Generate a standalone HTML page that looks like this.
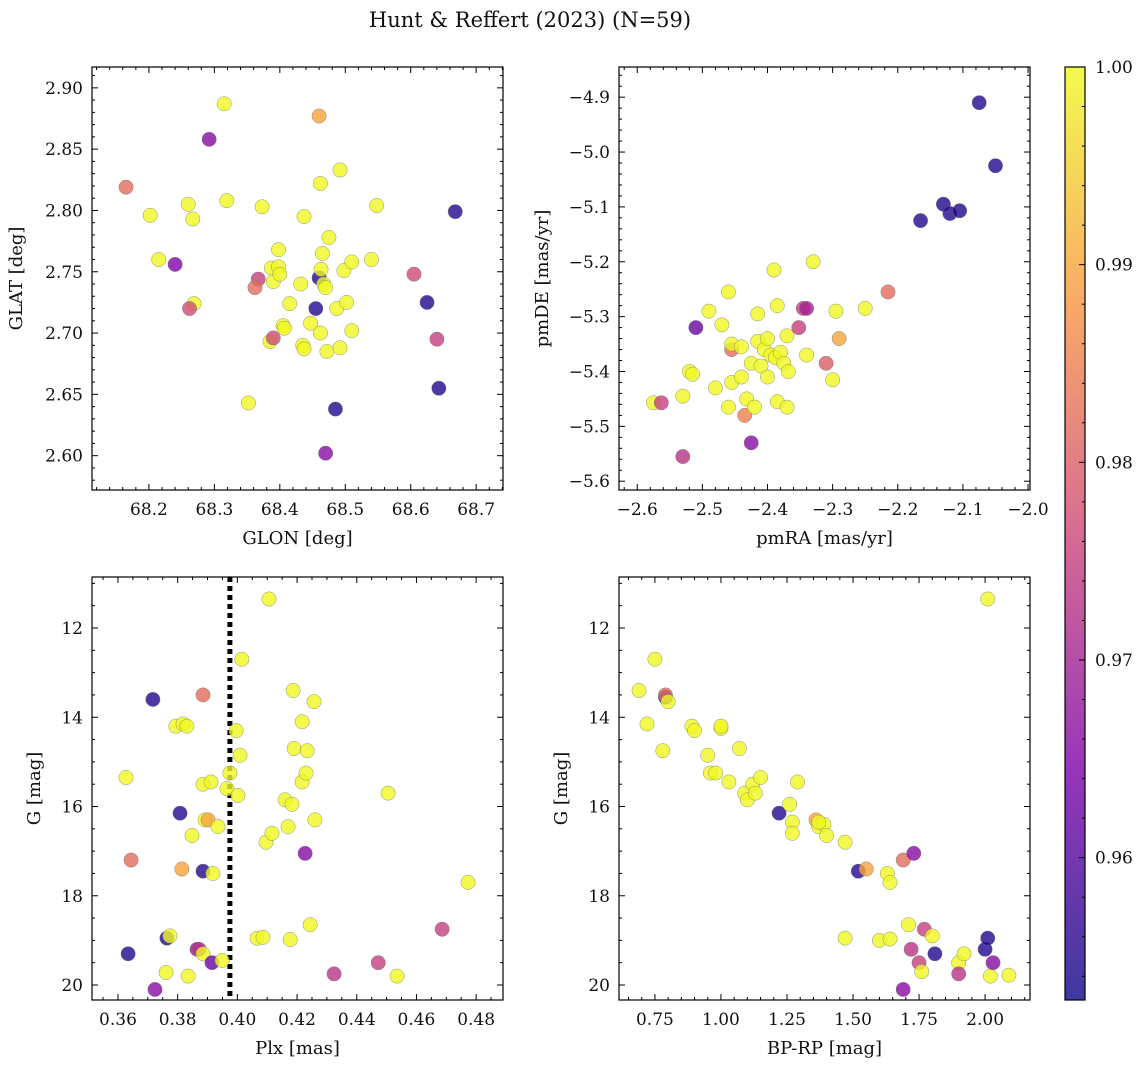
<!DOCTYPE html>
<html><head><meta charset="utf-8">
<style>
body{margin:0;background:#fff;}
svg text{font-family:"DejaVu Serif","Liberation Serif",serif;fill:#111;}
</style></head>
<body>
<svg id="fig" width="1148" height="1067" viewBox="0 0 1148 1067" xmlns="http://www.w3.org/2000/svg">
<text x="530" y="27" font-size="21" text-anchor="middle">Hunt &amp; Reffert (2023) (N=59)</text>
</svg>
<script>
// Panel 1: GLON vs GLAT
const glon1=[68.165,68.202,68.215,68.260,68.267,68.269,68.262,68.240,68.292,68.315,68.319,68.352,68.373,68.367,68.362,68.387,68.390,68.385,68.390,68.398,68.398,68.400,68.405,68.407,68.415,68.432,68.437,68.435,68.437,68.447,68.455,68.460,68.462,68.460,68.462,68.463,68.465,68.467,68.470,68.472,68.475,68.470,68.485,68.487,68.492,68.492,68.498,68.502,68.510,68.510,68.540,68.548,68.605,68.625,68.640,68.643,68.668];
const glat1=[2.819,2.796,2.760,2.805,2.793,2.724,2.720,2.756,2.858,2.887,2.808,2.643,2.803,2.744,2.737,2.753,2.742,2.693,2.696,2.768,2.754,2.748,2.706,2.704,2.724,2.740,2.795,2.690,2.687,2.708,2.720,2.745,2.700,2.877,2.822,2.752,2.765,2.740,2.737,2.685,2.778,2.602,2.638,2.720,2.833,2.688,2.751,2.725,2.702,2.758,2.760,2.804,2.748,2.725,2.695,2.655,2.799];
const prob1=[.982,1,1,1,1,1,.977,.965,.966,1,1,1,1,.975,.982,1,1,1,.977,1,1,1,1,1,1,1,1,1,1,1,.955,.955,1,.99,1,1,1,1,1,1,1,.966,.955,1,1,1,1,1,1,1,1,1,.977,.955,.975,.955,.955];
// Panel 2: pmRA vs pmDE
const pmra2=[-2.075,-2.05,-2.13,-2.12,-2.105,-2.165,-2.51,-2.575,-2.563,-2.53,-2.53,-2.52,-2.515,-2.49,-2.48,-2.47,-2.46,-2.46,-2.455,-2.455,-2.455,-2.44,-2.44,-2.435,-2.432,-2.425,-2.425,-2.42,-2.415,-2.415,-2.41,-2.405,-2.4,-2.4,-2.395,-2.39,-2.388,-2.385,-2.385,-2.38,-2.375,-2.37,-2.37,-2.368,-2.352,-2.345,-2.34,-2.34,-2.33,-2.31,-2.3,-2.295,-2.29,-2.25,-2.215];
const pmde2=[-4.91,-5.025,-5.095,-5.112,-5.107,-5.125,-5.32,-5.457,-5.457,-5.555,-5.445,-5.40,-5.405,-5.29,-5.43,-5.315,-5.255,-5.465,-5.42,-5.36,-5.35,-5.355,-5.41,-5.48,-5.45,-5.53,-5.385,-5.465,-5.295,-5.345,-5.39,-5.36,-5.34,-5.41,-5.37,-5.215,-5.375,-5.28,-5.455,-5.365,-5.385,-5.335,-5.465,-5.40,-5.32,-5.285,-5.285,-5.37,-5.20,-5.385,-5.415,-5.29,-5.34,-5.285,-5.255];
const prob2=[.955,.955,.955,.955,.955,.955,.962,1,.975,.973,1,1,1,1,1,1,1,1,1,.982,1,1,1,.985,1,.966,1,1,1,1,1,1,1,1,1,1,1,1,1,1,1,1,1,1,.975,.975,.97,1,1,.98,1,1,.99,1,.982];
// Panel 3: Plx vs G
const plx3=[0.3627,0.3634,0.3644,0.3717,0.3724,0.3764,0.3761,0.3774,0.3794,0.3808,0.3814,0.3818,0.3831,0.3835,0.3848,0.3865,0.3872,0.3885,0.3885,0.3885,0.3885,0.3892,0.3902,0.3912,0.3915,0.3918,0.3935,0.3949,0.3965,0.3975,0.3996,0.4002,0.4009,0.4015,0.4066,0.4086,0.4096,0.4106,0.4116,0.4160,0.4170,0.4177,0.4183,0.4187,0.4190,0.4217,0.4217,0.4227,0.4234,0.4230,0.4244,0.4257,0.4260,0.4324,0.4472,0.4505,0.4535,0.4686,0.4773];
const g3=[15.35,19.3,17.2,13.6,20.1,18.95,19.72,18.9,14.2,16.15,17.4,14.15,14.2,19.8,16.65,19.2,19.2,13.5,15.5,17.45,19.3,16.3,16.3,15.45,19.5,17.5,16.45,19.45,15.6,15.25,14.3,15.75,14.85,12.7,18.95,18.93,16.8,11.35,16.6,15.85,16.45,18.98,15.95,13.4,14.7,15.45,14.1,17.05,14.75,15.25,18.65,13.65,16.3,19.75,19.5,15.7,19.8,18.75,17.7];
const prob3=[1,.955,.982,.955,.966,.955,1,1,1,.955,.99,1,1,1,1,.968,.973,.982,1,.955,1,1,.99,1,.962,1,1,1,1,1,1,1,1,1,1,1,1,1,1,1,1,1,1,1,1,1,1,.966,1,1,1,1,1,.973,.975,1,1,.975,1];
const plxLine=0.3975;
// Panel 4: BP-RP vs G
const bprp4=[0.69,0.72,0.75,0.78,0.79,0.79,0.80,0.89,0.90,0.95,0.96,0.98,1.0,1.0,1.03,1.07,1.09,1.1,1.12,1.13,1.15,1.22,1.26,1.27,1.27,1.29,1.36,1.37,1.39,1.4,1.37,1.47,1.47,1.52,1.55,1.6,1.63,1.64,1.64,1.69,1.71,1.72,1.73,1.75,1.76,1.77,1.8,1.81,1.69,1.90,1.9,1.92,2.0,2.01,2.02,2.03,2.09,2.01];
const g4=[13.4,14.15,12.7,14.75,13.55,13.5,13.65,14.2,14.3,14.85,15.25,15.25,14.25,14.2,15.45,14.7,15.7,15.85,15.5,15.7,15.35,16.15,15.95,16.35,16.6,15.45,16.3,16.45,16.4,16.65,16.35,16.8,18.95,17.45,17.4,19.0,17.5,18.97,17.7,17.2,18.65,19.2,17.05,19.5,19.7,18.75,18.9,19.3,20.1,19.5,19.75,19.3,19.2,18.95,19.8,19.5,19.78,11.35];
const prob4=[1,1,1,1,.955,.982,1,1,1,1,1,1,1,1,1,1,1,1,1,1,1,.955,1,1,1,1,.99,1,1,1,1,1,1,.955,.99,1,1,1,1,.982,1,.973,.966,.975,1,.975,1,.955,.966,1,.973,1,.955,.955,1,.966,1,1];
const cbTicks=[0.96,0.97,0.98,0.99,1.00];

const NS="http://www.w3.org/2000/svg";
const svg=document.getElementById('fig');
const VMIN=0.9528,VMAX=1.0;
const stops=[[13,8,135],[126,3,168],[204,71,120],[248,149,64],[240,249,33]];
function plasma(t){t=Math.max(0,Math.min(1,t));const s=t*4,i=Math.min(3,Math.floor(s)),f=s-i;const a=stops[i],b=stops[i+1];return 'rgb('+[0,1,2].map(k=>Math.round(a[k]+(b[k]-a[k])*f)).join(',')+')';}
function mk(tag,attrs,parent){const e=document.createElementNS(NS,tag);for(const k in attrs)e.setAttribute(k,attrs[k]);(parent||svg).appendChild(e);return e;}
function fmt(v,d){return (v<0?'\u2212':'')+Math.abs(v).toFixed(d);}

function panel(o){
  const g=mk('g',{});
  
  
  const sx=v=>o.x0+(v-o.xmin)/(o.xmax-o.xmin)*(o.x1-o.x0);
  const sy=v=>o.yinv? o.y0+(v-o.ymin)/(o.ymax-o.ymin)*(o.y1-o.y0) : o.y1-(v-o.ymin)/(o.ymax-o.ymin)*(o.y1-o.y0);
  const clip='c'+o.name;
  const cp=mk('clipPath',{id:clip},g);mk('rect',{x:o.x0,y:o.y0,width:o.x1-o.x0,height:o.y1-o.y0},cp);
  const pts=mk('g',{'clip-path':'url(#'+clip+')'},g);
  if(o.vline!==undefined){
    const l=mk('line',{x1:sx(o.vline),x2:sx(o.vline),y1:o.y0,y2:o.y1,stroke:'#000','stroke-width':5,'stroke-dasharray':'5,4'},pts);
    
    
  }
  for(let i=0;i<o.xs.length;i++){
    const c=mk('circle',{cx:sx(o.xs[i]),cy:sy(o.ys[i]),r:7.2,fill:plasma((o.ps[i]-VMIN)/(VMAX-VMIN)),'fill-opacity':0.8,stroke:'#777','stroke-width':0.5,'stroke-opacity':0.8},pts);
    
    
  }
  mk('rect',{x:o.x0,y:o.y0,width:o.x1-o.x0,height:o.y1-o.y0,fill:'none',stroke:'#000','stroke-width':1.2},g);
  const eps=1e-9;
  for(let v=Math.ceil(o.xmin/o.xminor-eps)*o.xminor;v<=o.xmax+eps;v+=o.xminor){
    const major=Math.abs(v/o.xmajor-Math.round(v/o.xmajor))<1e-6;const L=major?6:3;const X=sx(v);
    mk('line',{x1:X,x2:X,y1:o.y1,y2:o.y1-L,stroke:'#000','stroke-width':1},g);
    mk('line',{x1:X,x2:X,y1:o.y0,y2:o.y0+L,stroke:'#000','stroke-width':1},g);
    if(major){const t=mk('text',{x:X,y:o.y1+25,'font-size':17,'text-anchor':'middle'},g);t.textContent=fmt(Math.round(v/o.xmajor)*o.xmajor,o.xd);
      }
  }
  for(let v=Math.ceil(o.ymin/o.yminor-eps)*o.yminor;v<=o.ymax+eps;v+=o.yminor){
    const major=Math.abs(v/o.ymajor-Math.round(v/o.ymajor))<1e-6;const L=major?6:3;const Y=sy(v);
    mk('line',{x1:o.x0,x2:o.x0+L,y1:Y,y2:Y,stroke:'#000','stroke-width':1},g);
    mk('line',{x1:o.x1,x2:o.x1-L,y1:Y,y2:Y,stroke:'#000','stroke-width':1},g);
    if(major){const t=mk('text',{x:o.x0-9,y:Y+6,'font-size':17,'text-anchor':'end'},g);t.textContent=fmt(Math.round(v/o.ymajor)*o.ymajor,o.yd);
      }
  }
  const xt=mk('text',{x:(o.x0+o.x1)/2,y:o.y1+54,'font-size':18,'text-anchor':'middle'},g);xt.textContent=o.xlabel;
  
  const yx=o.x0-o.ylo, yy=(o.y0+o.y1)/2;
  const yt=mk('text',{x:yx,y:yy,'font-size':18,'text-anchor':'middle',transform:'rotate(-90 '+yx+' '+yy+')'},g);yt.textContent=o.ylabel;
  
}

panel({name:'glon-glat-panel',xs:glon1,ys:glat1,ps:prob1,x0:92,x1:503,y0:67,y1:490,xmin:68.113,xmax:68.741,ymin:2.572,ymax:2.917,xmajor:0.1,xminor:0.02,ymajor:0.05,yminor:0.01,xd:1,yd:2,xlabel:'GLON [deg]',ylabel:'GLAT [deg]',ylo:70});
panel({name:'proper-motion-panel',xs:pmra2,ys:pmde2,ps:prob2,x0:619,x1:1030,y0:67,y1:490,xmin:-2.628,xmax:-1.997,ymin:-5.616,ymax:-4.845,xmajor:0.1,xminor:0.02,ymajor:0.1,yminor:0.02,xd:1,yd:1,xlabel:'pmRA [mas/yr]',ylabel:'pmDE [mas/yr]',ylo:71});
panel({name:'parallax-mag-panel',xs:plx3,ys:g3,ps:prob3,x0:92,x1:503,y0:577,y1:1000,xmin:0.3513,xmax:0.489,ymin:10.857,ymax:20.336,yinv:true,xmajor:0.02,xminor:0.005,ymajor:2,yminor:0.5,xd:2,yd:0,xlabel:'Plx [mas]',ylabel:'G [mag]',ylo:52,vline:plxLine});
panel({name:'cmd-panel',xs:bprp4,ys:g4,ps:prob4,x0:619,x1:1030,y0:577,y1:1000,xmin:0.614,xmax:2.170,ymin:10.857,ymax:20.336,yinv:true,xmajor:0.25,xminor:0.05,ymajor:2,yminor:0.5,xd:2,yd:0,xlabel:'BP-RP [mag]',ylabel:'G [mag]',ylo:52});

const cb=mk('g',{});


const cx0=1065,cx1=1085,cy0=67,cy1=1000;
const defs=mk('defs',{},cb);
const grad=mk('linearGradient',{id:'cbg',x1:0,y1:1,x2:0,y2:0},defs);
for(let i=0;i<=20;i++){mk('stop',{offset:i/20,'stop-color':plasma(i/20),'stop-opacity':0.8},grad);}
mk('rect',{x:cx0,y:cy0,width:cx1-cx0,height:cy1-cy0,fill:'url(#cbg)',stroke:'#000','stroke-width':1.2},cb);
const cy=v=>cy1-(v-VMIN)/(VMAX-VMIN)*(cy1-cy0);
for(let v=0.954;v<=1.0+1e-9;v+=0.002){const Y=cy(v);const major=Math.abs(v*100-Math.round(v*100))<1e-6;
  mk('line',{x1:cx1,x2:cx1-(major?6:3),y1:Y,y2:Y,stroke:'#000','stroke-width':1},cb);}
cbTicks.forEach(v=>{const t=mk('text',{x:cx1+10,y:cy(v)+6,'font-size':17},cb);t.textContent=v.toFixed(2);
  });
</script>
</body></html>
